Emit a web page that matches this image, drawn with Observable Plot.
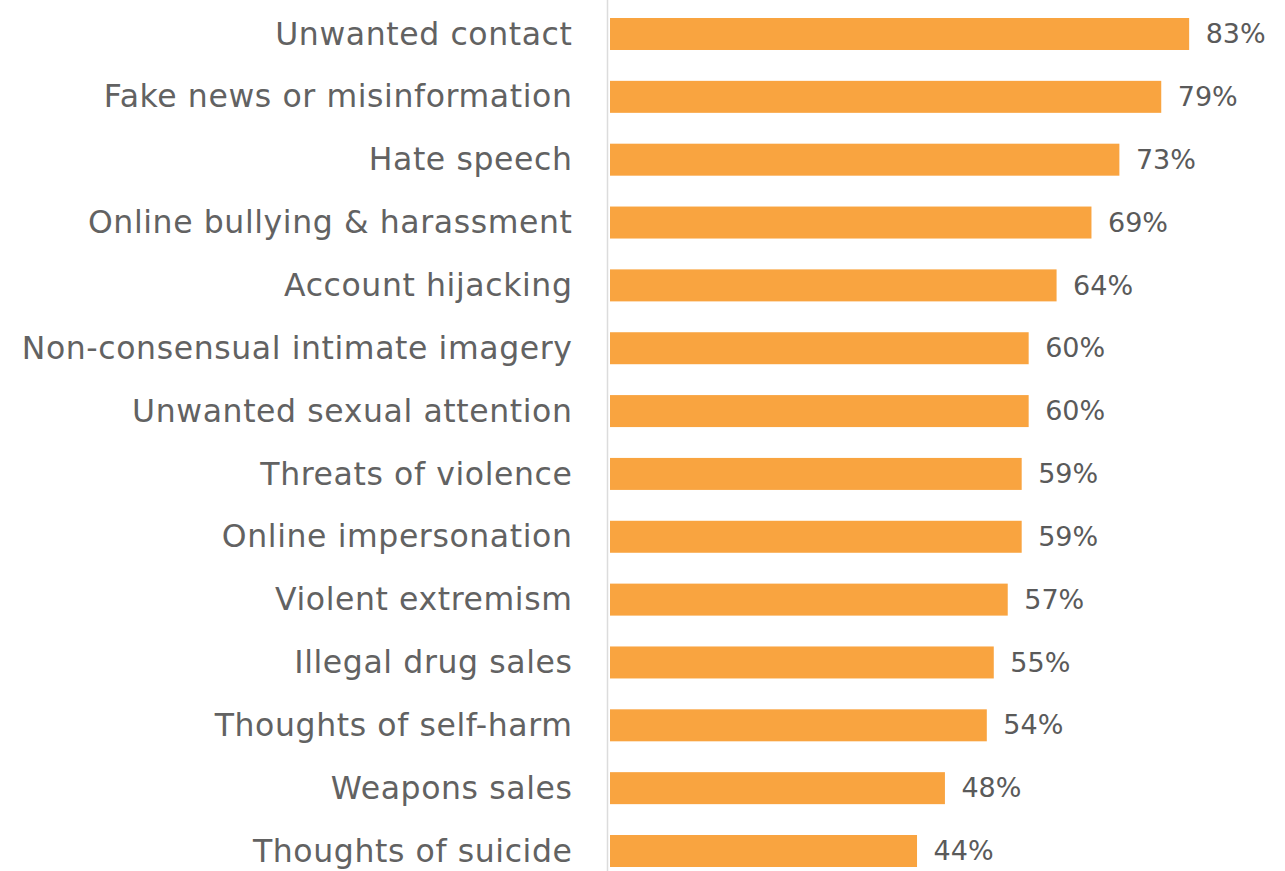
<!DOCTYPE html>
<html>
<head>
<meta charset="utf-8">
<script src="https://cdn.jsdelivr.net/npm/d3@7"></script>
<script src="https://cdn.jsdelivr.net/npm/@observablehq/plot@0.6"></script>
<style>
  html, body { margin: 0; padding: 0; background: #fff; }
  #chart svg { display: block; }
  #chart svg g[aria-label="y-axis tick label"] text { letter-spacing: 0.6px; }
</style>
</head>
<body>
<div id="chart"></div>
<script>
const categories = [
  "Unwanted contact",
  "Fake news or misinformation",
  "Hate speech",
  "Online bullying & harassment",
  "Account hijacking",
  "Non-consensual intimate imagery",
  "Unwanted sexual attention",
  "Threats of violence",
  "Online impersonation",
  "Violent extremism",
  "Illegal drug sales",
  "Thoughts of self-harm",
  "Weapons sales",
  "Thoughts of suicide"
];
const values = [83, 79, 73, 69, 64, 60, 60, 59, 59, 57, 55, 54, 48, 44];

const data = categories.map((c, i) => ({category: c, value: values[i]}));

const chart = Plot.plot({
  width: 1285,
  height: 871,
  marginLeft: 610,
  marginRight: 47,
  marginTop: 18,
  marginBottom: 4,
  style: {fontFamily: "DejaVu Sans", color: "#5f5f5f", background: "#fff"},
  x: {domain: [0, 90], axis: null},
  y: {domain: categories, paddingInner: 0.491, paddingOuter: 0, round: false, label: null},
  marks: [
    Plot.barX(data, {x: "value", y: "category", fill: "#F9A440"}),
    Plot.ruleX([0], {stroke: "#dcdcdc", strokeWidth: 1.5, dx: -3, insetTop: -18, insetBottom: -4}),
    Plot.axisY({tickSize: 0, tickPadding: 38, fontSize: 31.5, label: null, fill: "#626262"}),
    Plot.text(data, {x: "value", y: "category", text: d => d.value + "%", textAnchor: "start", dx: 16, fontSize: 27, fill: "#5a5a5a"})
  ]
});
document.getElementById("chart").appendChild(chart);
</script>
</body>
</html>
